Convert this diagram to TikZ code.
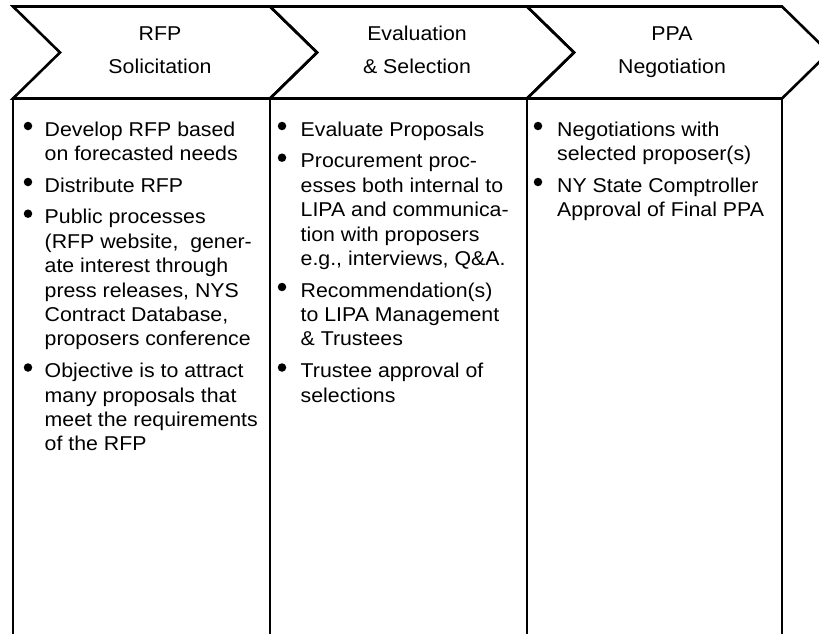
\documentclass[tikz,border=0pt]{standalone}
\usepackage{fontspec}
\setmainfont[FakeStretch=1.065]{Liberation Sans}
\begin{document}
\begin{tikzpicture}[x=1pt,y=-1pt,
  shapeline/.style={line width=2.6pt, line join=miter},
  head/.style={font=\fontsize{20}{33}\selectfont, align=center, inner sep=0pt, anchor=north},
  item/.style={font=\fontsize{20}{24.4}\selectfont, align=left, inner sep=0pt, anchor=north west},
  dot/.style={circle, fill=black, inner sep=0pt, minimum size=8.5pt}]
\useasboundingbox (0,0) rectangle (819,634);
\clip (0,0) rectangle (819,634);
\fill[white] (0,0) rectangle (819,634);
% chevrons and columns
\foreach \a/\b in {13/270, 270/527, 527/782} {
  \draw[shapeline] (\a,6.5) -- (\b,6.5) -- ({\b+47},52.5) -- (\b,98.5) -- (\a,98.5) -- ({\a+47},52.5) -- cycle;
  \draw[shapeline] (\a,98.5) rectangle (\b,660);
}
% headers
\node[head] (h1) at (160,16.9) {\strut RFP\\Solicitation};
\node[head] (h2) at (417,16.9) {\strut Evaluation\\\& Selection};
\node[head] (h3) at (672,16.9) {\strut PPA\\Negotiation};
% column 1
\node[dot] (a1d) at (28,126) {};
\node[item] (a1) at (44.5,118.9) {\strut Develop RFP based\\on forecasted needs};
\node[dot] (a2d) at (28,182) {};
\node[item] (a2) at (44.5,174.9) {\strut Distribute RFP};
\node[dot] (a3d) at (28,213.7) {};
\node[item] (a3) at (44.5,206.6) {\strut Public processes\\(RFP website, \ gener-\\ate interest through\\press releases, NYS\\Contract Database,\\proposers conference};
\node[dot] (a4d) at (28,367.5) {};
\node[item] (a4) at (44.5,360.4) {\strut Objective is to attract\\many proposals that\\meet the requirements\\of the RFP};
% column 2
\node[dot] (b1d) at (282,126) {};
\node[item] (b1) at (300.5,118.9) {\strut Evaluate Proposals};
\node[dot] (b2d) at (282,157.7) {};
\node[item] (b2) at (300.5,150.6) {\strut Procurement proc-\\esses both internal to\\LIPA and communica-\\tion with proposers\\e.g., interviews, Q\&A.};
\node[dot] (b3d) at (282,287) {};
\node[item] (b3) at (300.5,279.9) {\strut Recommendation(s)\\to LIPA Management\\\& Trustees};
\node[dot] (b4d) at (282,367.5) {};
\node[item] (b4) at (300.5,360.4) {\strut Trustee approval of\\selections};
% column 3
\node[dot] (c1d) at (538,126) {};
\node[item] (c1) at (557,118.9) {\strut Negotiations with\\selected proposer(s)};
\node[dot] (c2d) at (538,182) {};
\node[item] (c2) at (557,174.9) {\strut NY State Comptroller\\Approval of Final PPA};
\end{tikzpicture}
\end{document}
